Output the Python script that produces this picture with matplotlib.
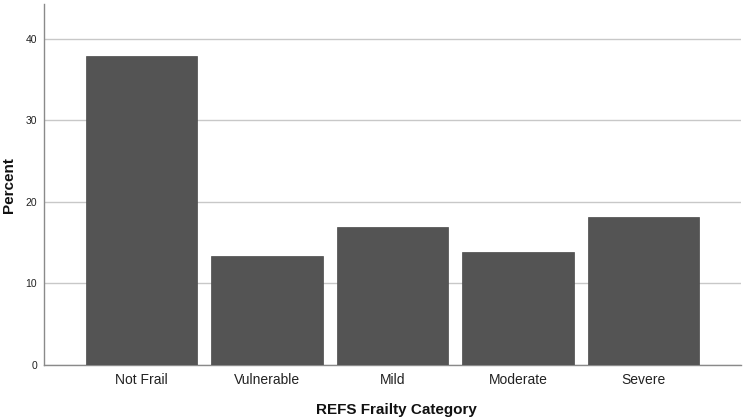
import matplotlib
matplotlib.use("Agg")
import matplotlib.pyplot as plt

plt.rcParams["font.family"] = ["Liberation Sans", "DejaVu Sans"]

categories = ["Not Frail", "Vulnerable", "Mild", "Moderate", "Severe"]
percent = [37.9, 13.3, 16.9, 13.8, 18.1]
yticks = [0, 10, 20, 30, 40]

fig = plt.figure(figsize=(7.47, 4.18), dpi=100)
W, H = 747, 418
ax = fig.add_axes([44 / W, (H - 365) / H, (741 - 44) / W, (365 - 3.5) / H])
x = list(range(len(categories)))
ax.bar(x, percent, width=0.89, color="#545454", edgecolor="#4a4a4a", linewidth=0.5, zorder=3)
ax.set_xlim(-0.777, len(categories) - 1 + 0.777)
ax.set_ylim(0, 44.3)
ax.set_yticks(yticks)
ax.set_yticklabels([str(t) for t in yticks], fontsize=7.5, color="#222222")
ax.set_xticks(x)
ax.set_xticklabels(categories, fontsize=10, color="#222222")
ax.tick_params(axis="y", length=0, pad=5)
ax.tick_params(axis="x", length=0, pad=6)
ax.grid(axis="y", color="#c8c8c8", linewidth=1, zorder=0)
for s in ["top", "right"]:
    ax.spines[s].set_visible(False)
for s in ["left", "bottom"]:
    ax.spines[s].set_color("#8a8a8a")
    ax.spines[s].set_linewidth(1)
fig.text(9 / W, 1 - 185 / H, "Percent", rotation=90, fontsize=11, fontweight="bold",
         ha="center", va="center", color="#111111")
fig.text(396 / W, 1 - 410 / H, "REFS Frailty Category", fontsize=11, fontweight="bold",
         ha="center", va="center", color="#111111")
fig.savefig("out.png", dpi=100)
